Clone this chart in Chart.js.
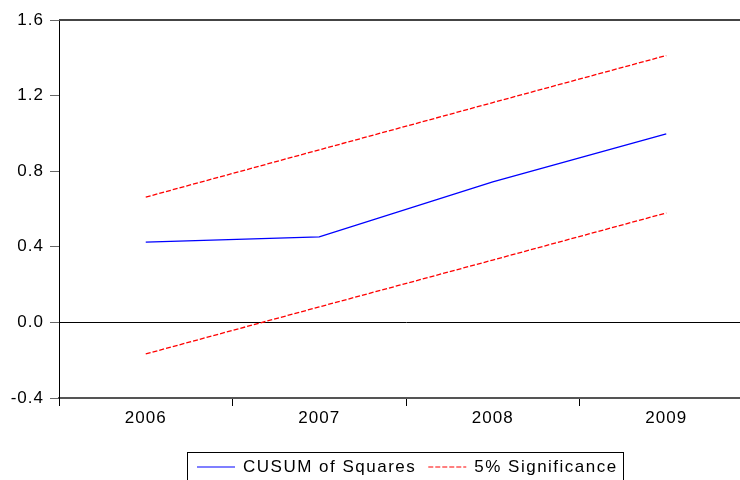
<!DOCTYPE html>
<html>
<head>
<meta charset="utf-8">
<script src="https://cdn.jsdelivr.net/npm/chart.js@4/dist/chart.umd.min.js"></script>
<style>
  html, body { margin: 0; padding: 0; background: #fff; overflow: hidden; }
  canvas { display: block; }
</style>
</head>
<body>
<canvas id="chart" width="760" height="480"></canvas>
<script>
// ── Data ─────────────────────────────────────────────────────
const years      = ["2006", "2007", "2008", "2009"];
const cusumSq    = [0.425, 0.452, 0.743, 0.998];
const upperBound = [0.663, 0.913, 1.163, 1.412];
const lowerBound = [-0.167, 0.082, 0.330, 0.579];
const yTicks     = [-0.4, 0.0, 0.4, 0.8, 1.2, 1.6];

const FONT = "'Liberation Sans', Arial, sans-serif";

// ── Frame, letter spacing and boxed legend ───────────────────
const framePlugin = {
  id: "frame",
  beforeDraw(chart) {
    chart.ctx.letterSpacing = "1px";
  },
  afterDraw(chart) {
    const { ctx, chartArea } = chart;
    ctx.save();
    // top border
    ctx.strokeStyle = "#444";
    ctx.lineWidth = 2;
    ctx.beginPath();
    ctx.moveTo(chartArea.left, chartArea.top);
    ctx.lineTo(chartArea.right, chartArea.top);
    ctx.stroke();

    // legend box
    ctx.letterSpacing = "1.5px";
    ctx.font = "17px " + FONT;
    ctx.textBaseline = "middle";
    ctx.textAlign = "left";
    ctx.lineWidth = 1;
    ctx.strokeStyle = "#000";
    ctx.strokeRect(187.5, 452.5, 436, 40);
    let x = 197;
    const y = 467;
    chart.data.datasets.forEach(ds => {
      if (ds.hideInLegend) return;
      ctx.strokeStyle = ds.legendColor;
      ctx.lineWidth = 1.3;
      ctx.setLineDash(ds.borderDash || []);
      ctx.beginPath();
      ctx.moveTo(x, y);
      ctx.lineTo(x + 38, y);
      ctx.stroke();
      ctx.setLineDash([]);
      ctx.fillStyle = "#000";
      ctx.fillText(ds.label, x + 46, y);
      x += 46 + ctx.measureText(ds.label).width + 12;
    });
    ctx.restore();
  }
};

// ── Chart ────────────────────────────────────────────────────
new Chart(document.getElementById("chart"), {
  type: "line",
  data: {
    labels: years,
    datasets: [
      {
        label: "CUSUM of Squares",
        data: cusumSq,
        borderColor: "#0000ff",
        legendColor: "#5555ff",
        borderWidth: 1.3,
        pointRadius: 0,
        tension: 0
      },
      {
        label: "5% Significance",
        data: upperBound,
        borderColor: "#ff0000",
        legendColor: "#ff5555",
        borderWidth: 1.3,
        borderDash: [5, 2],
        pointRadius: 0,
        tension: 0
      },
      {
        label: "5% Significance (lower)",
        data: lowerBound,
        borderColor: "#ff0000",
        borderWidth: 1.3,
        borderDash: [5, 2],
        pointRadius: 0,
        tension: 0,
        hideInLegend: true
      }
    ]
  },
  options: {
    responsive: false,
    animation: false,
    devicePixelRatio: 1,
    layout: { padding: { top: 20, right: 7, left: 0, bottom: 0 } },
    plugins: {
      legend: { display: false },
      tooltip: { enabled: false }
    },
    scales: {
      x: {
        type: "category",
        offset: true,
        grid: {
          offset: true,
          drawOnChartArea: false,
          drawTicks: true,
          tickLength: 8,
          color: "#000"
        },
        border: { color: "#555", width: 2 },
        ticks: {
          color: "#000",
          font: { family: FONT, size: 17 },
          padding: 2,
          maxRotation: 0
        },
        afterFit(scale) { scale.height = 82; }
      },
      y: {
        min: -0.4,
        max: 1.6,
        afterBuildTicks(scale) {
          scale.ticks = yTicks.map(v => ({ value: v }));
        },
        grid: {
          color: c => (c.tick && Math.abs(c.tick.value) < 1e-9) ? "#000" : "rgba(0,0,0,0)",
          tickColor: "#666",
          tickLength: 9,
          drawTicks: true
        },
        border: { color: "#000", width: 1 },
        ticks: {
          color: "#000",
          font: { family: FONT, size: 17 },
          padding: 6,
          callback: v => Number(v).toFixed(1)
        },
        afterFit(scale) { scale.width = 59; }
      }
    }
  },
  plugins: [framePlugin]
});
</script>
</body>
</html>
